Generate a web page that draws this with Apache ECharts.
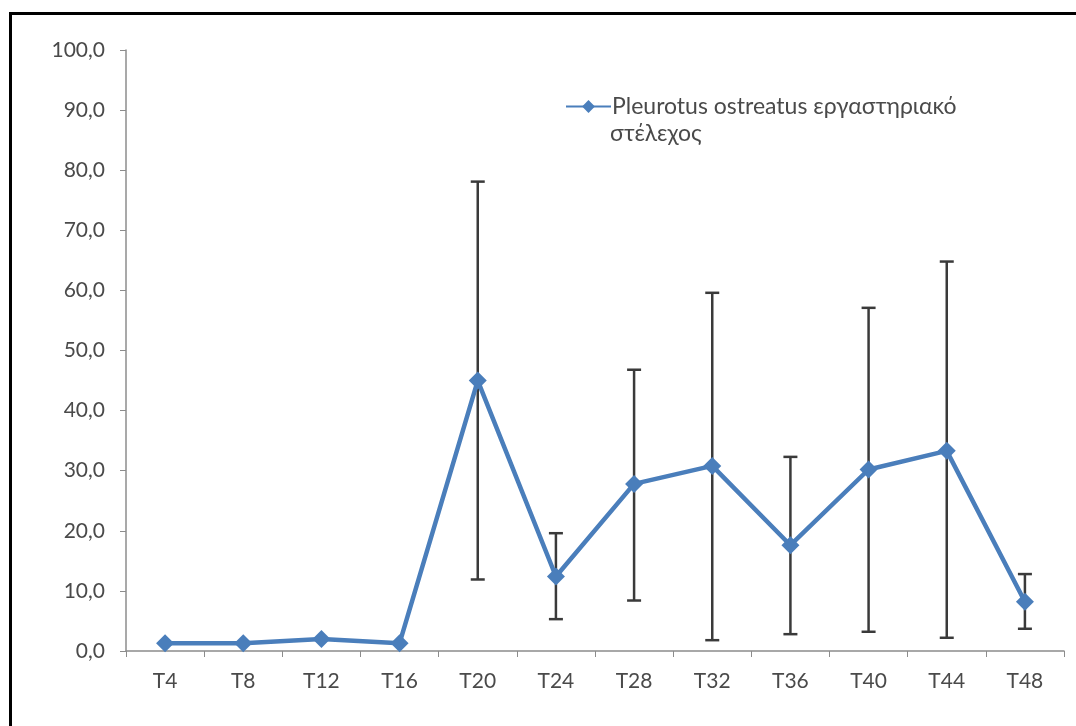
<!DOCTYPE html>
<html>
<head>
<meta charset="utf-8">
<script src="https://cdn.jsdelivr.net/npm/echarts@6/dist/echarts.min.js"></script>
<style>
html,body{margin:0;padding:0;background:#fff;}
#frame{position:absolute;left:9px;top:12px;width:1100px;height:800px;border:3px solid #000;box-sizing:border-box;}
#chart{position:absolute;left:0;top:0;width:1076px;height:726px;}
</style>
</head>
<body>
<div id="frame"></div>
<div id="chart"></div>
<script>
const categories = ['T4','T8','T12','T16','T20','T24','T28','T32','T36','T40','T44','T48'];
const values = [1.3, 1.3, 2.0, 1.3, 45.0, 12.4, 27.8, 30.8, 17.6, 30.2, 33.3, 8.2];
const errLow = [null, null, null, null, 11.9, 5.3, 8.4, 1.8, 2.8, 3.2, 2.2, 3.7];
const errHigh = [null, null, null, null, 78.1, 19.6, 46.8, 59.6, 32.3, 57.1, 64.8, 12.8];
const yTicks = [0,10,20,30,40,50,60,70,80,90,100];
const seriesName = 'Pleurotus ostreatus εργαστηριακό';
const seriesName2 = 'στέλεχος';

const errData = [];
categories.forEach((c, i) => { if (errLow[i] != null) errData.push([i, errLow[i], errHigh[i]]); });

const font = 'Lato, "Open Sans", sans-serif';
const txtColor = '#4a4a4a';
const chart = echarts.init(document.getElementById('chart'), null, {renderer: 'canvas'});
chart.setOption({
  animation: false,
  backgroundColor: 'transparent',
  grid: {left: 126, right: 12, top: 50, bottom: 75, containLabel: false},
  legend: {
    left: 560, top: 90,
    itemWidth: 45, itemHeight: 16, itemGap: 4,
    data: [{name: seriesName}],
    textStyle: {fontFamily: font, fontSize: 23, color: txtColor, padding: [0,0,0,-4]}
  },
  graphic: [{
    type: 'text', left: 610, top: 122,
    style: {text: seriesName2, fontFamily: font, fontSize: 23, fill: txtColor}
  }],
  xAxis: {
    type: 'category', data: categories, boundaryGap: true,
    axisLine: {lineStyle: {color: '#8c8c8c', width: 1.5}},
    axisTick: {show: true, length: 6, alignWithLabel: false, lineStyle: {color: '#8c8c8c'}},
    axisLabel: {fontFamily: font, fontSize: 21, color: txtColor, margin: 20}
  },
  yAxis: {
    type: 'value', min: 0, max: 100, interval: 10,
    splitLine: {show: false},
    axisLine: {show: true, lineStyle: {color: '#8c8c8c', width: 1.5}},
    axisTick: {show: true, length: 6, lineStyle: {color: '#8c8c8c'}},
    axisLabel: {fontFamily: font, fontSize: 21, color: txtColor, margin: 21,
      formatter: v => v.toFixed(1).replace('.', ',')}
  },
  series: [
    {
      name: seriesName, type: 'line', data: values,
      symbol: 'diamond', symbolSize: 18,
      lineStyle: {color: '#4a7ebb', width: 4.5},
      itemStyle: {color: '#4a7ebb'},
      z: 3
    },
    {
      name: 'err', type: 'custom', data: errData, z: 2,
      renderItem: function (params, api) {
        const x = api.coord([api.value(0), 0])[0];
        const lo = api.coord([api.value(0), api.value(1)])[1];
        const hi = api.coord([api.value(0), api.value(2)])[1];
        const hw = 7;
        const st = {stroke: '#3a3a3a', lineWidth: 2.5};
        return {type: 'group', children: [
          {type: 'line', shape: {x1: x, y1: lo, x2: x, y2: hi}, style: st},
          {type: 'line', shape: {x1: x - hw, y1: lo, x2: x + hw, y2: lo}, style: st},
          {type: 'line', shape: {x1: x - hw, y1: hi, x2: x + hw, y2: hi}, style: st}
        ]};
      }
    }
  ]
});
</script>
</body>
</html>
